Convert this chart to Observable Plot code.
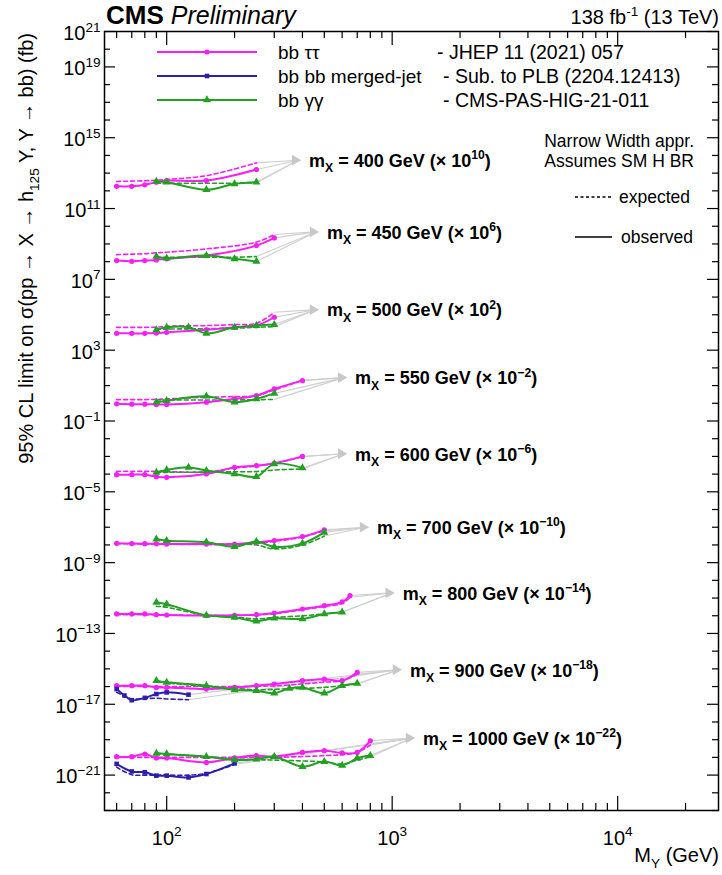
<!DOCTYPE html>
<html><head><meta charset="utf-8">
<script src="https://cdn.jsdelivr.net/npm/d3@7"></script>
<script src="https://cdn.jsdelivr.net/npm/@observablehq/plot@0.6"></script>
<style>
body{margin:0;background:#fff;}
#chart svg{font-family:"Liberation Sans",Arial,Helvetica,sans-serif;display:block;}
</style></head><body><div id="chart"></div>
<script>
// ---------------- data ----------------
const mXList   = [400, 450, 500, 550, 600, 700, 800, 900, 1000];
const scalePow = [10, 6, 2, -2, -6, -10, -14, -18, -22];   // multiplier 10^k shown on chart

// bb tautau (JHEP 11 (2021) 057): [mY (GeV), observed (fb), expected (fb)]
const tt400  = [[60,180,340],[70,180,355],[80,220,370],[90,310,400],[100,380,440],[150,380,720],[250,1600,3800]];
const tt450  = [[60,115,250],[70,105,265],[80,115,280],[90,126,315],[100,145,340],[150,220,525],[250,810,1260],[300,2200,3400]];
const tt500  = [[60,89,195],[70,89,195],[80,89,195],[90,93,200],[100,102,225],[150,141,245],[200,195,280],[250,245,330],[300,725,1380]];
const tt550  = [[60,93,162],[70,89,162],[80,89,162],[90,85,166],[100,85,178],[150,115,219],[200,178,240],[250,270,270],[300,645,560],[400,1900,2000]];
const tt600  = [[60,93,145],[70,93,145],[80,93,145],[90,72,140],[100,66,138],[150,102,130],[200,240,220],[250,300,290],[300,410,400],[400,1000,950]];
const tt700  = [[60,123,117],[70,120,115],[80,117,113],[90,115,112],[100,112,110],[150,112,105],[200,112,105],[250,141,126],[300,178,158],[400,295,280],[500,710,630]];
const tt800  = [[60,126,115],[70,126,115],[80,126,115],[90,115,112],[100,110,110],[150,102,105],[200,105,105],[250,115,112],[300,141,130],[400,240,220],[500,370,330],[600,600,500],[650,1380,1100]];
const tt900  = [[60,112,100],[70,112,100],[80,112,100],[90,89,100],[100,89,100],[150,72,100],[200,89,100],[250,112,105],[300,138,110],[400,214,141],[500,263,178],[600,214,214],[700,630,500]];
const tt1000 = [[60,110,100],[70,110,100],[80,155,100],[90,93,100],[100,93,100],[150,52,100],[200,93,100],[250,126,100],[300,110,100],[400,190,112],[500,240,126],[600,178,141],[700,190,190],[800,870,500]];

// bb gamma gamma (CMS-PAS-HIG-21-011)
const gg400  = [[90,340,270],[100,310,270],[150,115,270],[200,250,270],[250,310,280]];
const gg450  = [[90,195,178],[100,155,178],[150,220,178],[200,145,178],[250,102,195]];
const gg500  = [[90,141,158],[100,195,158],[125,200,160],[150,89,165],[200,195,175],[250,245,195],[300,280,214]];
const gg550  = [[90,115,155],[100,141,155],[150,250,155],[200,115,155],[250,178,160],[300,363,166]];
const gg600  = [[90,126,126],[100,170,126],[125,240,128],[150,158,130],[200,102,135],[250,72,140],[300,380,170],[400,224,195]];
const gg700  = [[90,214,112],[100,174,112],[150,141,112],[200,79,112],[250,155,100],[300,79,59],[400,123,100],[500,510,316]];
const gg800  = [[90,575,347],[100,447,300],[150,105,105],[200,81,85],[250,49,66],[300,72,81],[400,66,100],[500,126,126],[600,158,158]];
const gg900  = [[90,214,174],[100,174,160],[150,112,100],[200,65,80],[250,58,65],[300,42,70],[350,79,75],[400,89,79],[500,42,90],[600,112,112],[700,151,141]];
const gg1000 = [[90,170,170],[100,155,155],[150,110,110],[200,71,83],[250,79,75],[300,110,70],[400,30,63],[500,58,55],[600,35,42],[700,89,70],[800,126,105]];

// bb bb merged-jet (2204.12413)
const bb900  = [[60,72,47],[65,31,30],[70,17,20],[80,23,21],[90,38,22],[100,47,20],[125,35,18]];
const bb1000 = [[60,43,28],[70,16,10.5],[80,14.5,10],[90,9.3,10],[100,9.3,10],[125,7.4,10],[150,11.5,12.6],[200,46,40]];

const yLabelExps  = [21,19,15,11,7,3,-1,-5,-9,-13,-17,-21];
const xLabelVals  = [100,1000,10000];

// ---------------- build tables ----------------
const analyses = [
  {key:"tt", color:"#f71ef7", symbol:"circle", r:2.6, sets:[tt400,tt450,tt500,tt550,tt600,tt700,tt800,tt900,tt1000], mX:mXList},
  {key:"bb", color:"#2c1fae", symbol:"square", r:2.6, sets:[bb900,bb1000], mX:[900,1000]},
  {key:"gg", color:"#22a022", symbol:"triangle", r:3.0, sets:[gg400,gg450,gg500,gg550,gg600,gg700,gg800,gg900,gg1000], mX:mXList}
];
const rows = [];
for (const a of analyses) {
  a.sets.forEach((arr, i) => {
    const mX = a.mX[i];
    const s = 10 ** scalePow[mXList.indexOf(mX)];
    for (const [mY, o, e] of arr) {
      if (o != null) rows.push({ana:a.key, mX, mY, kind:"obs", v:o*s});
      if (e != null) rows.push({ana:a.key, mX, mY, kind:"exp", v:e*s});
    }
  });
}
// arrow tips & labels derived from the data
const tips = mXList.map((mX, i) => {
  const rs = rows.filter(r => r.mX === mX);
  const maxMY = d3.max(rs, r => r.mY);
  const lasts = [];
  for (const a of analyses) for (const k of ["obs","exp"]) {
    const s = rs.filter(r => r.ana === a.key && r.kind === k);
    if (s.length) lasts.push(s[s.length-1]);
  }
  const maxLog = d3.max(lasts, r => Math.log10(r.v));
  return {mX, x: maxMY*1.53, y: 10 ** (maxLog + 0.15), lasts,
          label: `m_{X} = ${mX} GeV (× 10^{${String(scalePow[i]).replace("-","\u2212")}})`};
});
const links = tips.flatMap(t => t.lasts.map(l => ({x1:l.mY, y1:l.v, x2:t.x, y2:t.y})));

const W = 722, H = 875, mL = 104, mR = 4, mT = 31, mB = 65;
const pw = W - mL - mR, ph = H - mT - mB;
const yDecades = d3.range(-23, 22);
const xAll = [];
for (const d of [10,100,1000,10000]) for (let k=1;k<10;k++) { const v=k*d; if (v>=53 && v<=28000) xAll.push(v); }
const yMaj = yDecades.filter(d => yLabelExps.includes(d)), yMin = yDecades.filter(d => !yLabelExps.includes(d));
const xMaj = xAll.filter(v => xLabelVals.includes(v)), xMin = xAll.filter(v => !xLabelVals.includes(v));

const marks = [
  // ticks (inside frame, all four sides)
  Plot.tickY(yMaj, {y:d=>10**d, insetRight: pw-11, strokeWidth:1.2}),
  Plot.tickY(yMin, {y:d=>10**d, insetRight: pw-6, strokeWidth:1.2}),
  Plot.tickY(yMaj, {y:d=>10**d, insetLeft: pw-11, strokeWidth:1.2}),
  Plot.tickY(yMin, {y:d=>10**d, insetLeft: pw-6, strokeWidth:1.2}),
  Plot.tickX(xMaj, {x:d=>d, insetTop: ph-14, strokeWidth:1.2}),
  Plot.tickX(xMin, {x:d=>d, insetTop: ph-7, strokeWidth:1.2}),
  Plot.tickX(xMaj, {x:d=>d, insetBottom: ph-14, strokeWidth:1.2}),
  Plot.tickX(xMin, {x:d=>d, insetBottom: ph-7, strokeWidth:1.2}),
  // tick labels
  Plot.text(yLabelExps, {y:d=>10**d, frameAnchor:"left", textAnchor:"end", dx:-4, dy:2,
    text:d=>`10^{${String(d).replace("-","\u2212")}}`, fontSize:20, fill:"black"}),
  Plot.text(xLabelVals, {x:d=>d, frameAnchor:"bottom", dy:34,
    text:d=>`10^{${Math.round(Math.log10(d))}}`, fontSize:20, fill:"black"}),
  // grey arrows to labels
  Plot.link(links, {x1:"x1", y1:"y1", x2:"x2", y2:"y2", stroke:"#cfcfcf", strokeWidth:1.1}),
  Plot.dot(tips, {x:"x", y:"y", symbol:"triangle", r:4, rotate:90, fill:"#c8c8c8", stroke:"none", dx:-3}),
  Plot.text(tips, {x:"x", y:"y", text:"label", textAnchor:"start", dx:11, dy:1, fontSize:18, fontWeight:"bold", fill:"black"})
];
// data lines & markers
for (const a of analyses) {
  marks.push(Plot.line(rows.filter(r => r.ana===a.key && r.kind==="exp"),
    {x:"mY", y:"v", z:"mX", stroke:a.color, strokeWidth:1.6, strokeDasharray:"4,3", curve:"catmull-rom"}));
}
for (const a of analyses) {
  const obs = rows.filter(r => r.ana===a.key && r.kind==="obs");
  marks.push(
    Plot.line(obs, {x:"mY", y:"v", z:"mX", stroke:a.color, strokeWidth:2, curve:"catmull-rom"}),
    Plot.dot(obs, {x:"mY", y:"v", symbol:a.symbol, r:a.r, fill:a.color, stroke:"none"})
  );
}
marks.push(Plot.frame({stroke:"black", strokeWidth:1.5}));

const svg = Plot.plot({
  width: W, height: H,
  marginLeft: mL, marginRight: mR, marginTop: mT, marginBottom: mB,
  x: {type:"log", domain:[53, 28000], axis:null},
  y: {type:"log", domain:[1e-23, 1e21], axis:null},
  style: {fontFamily:'"Liberation Sans", Arial, Helvetica, sans-serif', background:"white"},
  marks
});
document.getElementById("chart").appendChild(svg);

// ---------------- annotations (titles, legend) ----------------
const S = d3.select(svg);
const FF = '"Liberation Sans", Arial, Helvetica, sans-serif';
function txt(x, y, str, opt = {}) {
  const t = S.append("text").attr("x", x).attr("y", y).attr("font-family", FF)
    .attr("font-size", opt.size || 18).attr("fill", "black")
    .attr("text-anchor", opt.anchor || "start");
  if (opt.weight) t.attr("font-weight", opt.weight);
  if (opt.style) t.attr("font-style", opt.style);
  if (opt.transform) t.attr("transform", opt.transform).attr("x", 0).attr("y", 0);
  if (opt.baseline) t.attr("dominant-baseline", opt.baseline);
  t.text(str);
  return t;
}
// header
const cms = S.append("text").attr("x", 106).attr("y", 24).attr("font-family", FF)
  .attr("fill","black").attr("text-anchor","start");
cms.append("tspan").attr("font-weight","bold").attr("font-size",26).text("CMS");
cms.append("tspan").attr("font-style","italic").attr("font-size",25).text(" Preliminary");
txt(719, 24, "138 fb^{-1} (13 TeV)", {anchor:"end", size:20});
// axis titles
txt(0, 0, "95% CL limit on σ(pp → X → h_{125} Y, Y → bb) (fb)",
  {anchor:"end", size:20, transform:"translate(33,33) rotate(-90)"});
txt(719, 862, "M_{Y} (GeV)", {anchor:"end", size:20});
// legend
const leg = [
  {a:analyses[0], label:"bb ττ", ref:"- JHEP 11 (2021) 057", y:52, rx:437},
  {a:analyses[1], label:"bb bb merged-jet", ref:"- Sub. to PLB (2204.12413)", y:76, rx:443},
  {a:analyses[2], label:"bb γγ", ref:"- CMS-PAS-HIG-21-011", y:100, rx:443}
];
for (const l of leg) {
  S.append("line").attr("x1",157).attr("x2",257).attr("y1",l.y).attr("y2",l.y)
    .attr("stroke", l.a.color).attr("stroke-width", 2);
  const sym = l.a.symbol === "circle" ? d3.symbolCircle : l.a.symbol === "square" ? d3.symbolSquare : d3.symbolTriangle;
  S.append("path").attr("d", d3.symbol(sym, Math.PI * l.a.r * l.a.r)())
    .attr("transform", `translate(207,${l.y})`).attr("fill", l.a.color);
  txt(278, l.y, l.label, {size:19, baseline:"central"});
  txt(l.rx, l.y, l.ref, {size:19.5, baseline:"central"});
}
txt(694, 141, "Narrow Width appr.", {anchor:"end", size:17.5, baseline:"central"});
txt(694, 161, "Assumes SM H BR", {anchor:"end", size:17.5, baseline:"central"});
S.append("line").attr("x1",575).attr("x2",612).attr("y1",197).attr("y2",197)
  .attr("stroke","black").attr("stroke-width",1.3).attr("stroke-dasharray","3,2.5");
txt(619, 197, "expected", {size:17.5, baseline:"central"});
S.append("line").attr("x1",575).attr("x2",612).attr("y1",237).attr("y2",237)
  .attr("stroke","black").attr("stroke-width",1.6);
txt(621, 237, "observed", {size:17.5, baseline:"central"});

// ---------------- rich text: ^{..} superscript, _{..} subscript ----------------
function rich(el) {
  const s = el.textContent;
  if (!/[\^_]\{/.test(s)) return;
  const fs = parseFloat(getComputedStyle(el).fontSize) || 16;
  const re = /([\^_])\{([^}]*)\}/g; const parts = []; let last = 0, m;
  while ((m = re.exec(s))) {
    if (m.index > last) parts.push({t:s.slice(last, m.index)});
    parts.push({t:m[2], k:m[1]}); last = re.lastIndex;
  }
  if (last < s.length) parts.push({t:s.slice(last)});
  while (el.firstChild) el.removeChild(el.firstChild);
  let shift = 0;
  for (const p of parts) {
    const ts = document.createElementNS("http://www.w3.org/2000/svg", "tspan");
    const target = p.k === "^" ? -0.42*fs : p.k === "_" ? 0.3*fs : 0;
    ts.setAttribute("dy", target - shift); shift = target;
    if (p.k) ts.setAttribute("font-size", (0.68*fs).toFixed(1));
    ts.textContent = p.t; el.appendChild(ts);
  }
}
svg.querySelectorAll("text").forEach(rich);
</script></body></html>
